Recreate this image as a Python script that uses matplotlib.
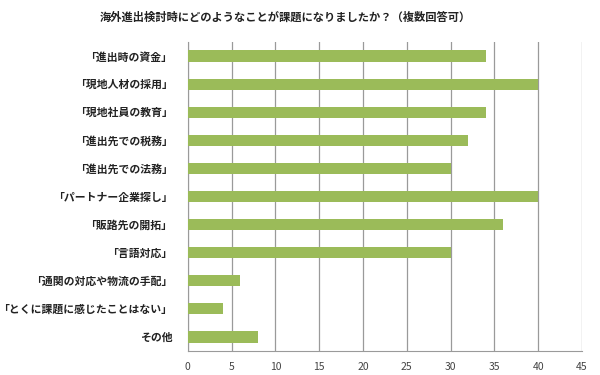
import matplotlib
matplotlib.use("Agg")
import matplotlib.pyplot as plt

plt.rcParams["font.family"] = ["Noto Sans CJK JP", "DejaVu Sans"]

categories = [
    "「進出時の資金」",
    "「現地人材の採用」",
    "「現地社員の教育」",
    "「進出先での税務」",
    "「進出先での法務」",
    "「パートナー企業探し」",
    "「販路先の開拓」",
    "「言語対応」",
    "「通関の対応や物流の手配」",
    "「とくに課題に感じたことはない」",
    "その他",
]
values = [34, 40, 34, 32, 30, 40, 36, 30, 6, 4, 8]
xticks = list(range(0, 50, 5))
title = "海外進出検討時にどのようなことが課題になりましたか？（複数回答可）"

fig = plt.figure(figsize=(6, 3.75), dpi=100)
ax = fig.add_axes([0.313, 0.064, 0.657, 0.824])

pos = list(range(len(categories)))
ax.barh(pos, values, height=0.4, color="#9BBB59", zorder=3)

ax.set_ylim(len(categories) - 0.5, -0.5)
ax.set_xlim(0, 45)
ax.set_xticks(xticks)
ax.set_yticks(pos)
ax.set_yticklabels(categories, fontsize=7.8, fontweight="bold", color="#222222")
ax.tick_params(axis="y", length=0, pad=11)
ax.tick_params(axis="x", length=0, pad=8, labelsize=7.5, labelcolor="#444444")

ax.grid(axis="x", color="#9a9a9a", linewidth=0.9, zorder=0)
for s in ["top", "right"]:
    ax.spines[s].set_visible(False)
ax.spines["left"].set_color("#9a9a9a")
ax.spines["bottom"].set_color("#9a9a9a")

fig.text(0.475, 0.955, title, ha="center", va="center", fontsize=8.1,
         fontweight="bold", color="#222222")

fig.savefig("out.png", dpi=100, facecolor="white")
